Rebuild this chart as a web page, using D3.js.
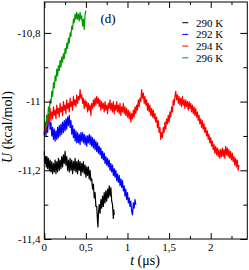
<!DOCTYPE html>
<html><head><meta charset="utf-8">
<script src="https://cdn.jsdelivr.net/npm/d3@7/dist/d3.min.js"></script>
<style>body{margin:0;background:#fff}svg{display:block}
text{font-family:"Liberation Serif","Times New Roman",Times,serif;fill:#000}</style>
</head><body>
<script>
const seriesNames = ["290 K","292 K","294 K","296 K"];
const seriesColors = ["#000000","#0000ff","#ff0000","#009a00"];
const xTicksMajor = [0,0.5,1,1.5,2];
const xTickLabels = ["0","0,5","1","1,5","2"];
const yTicksMajor = [-11.4,-11.2,-11,-10.8];
const yTickLabels = ["-11,4","-11,2","-11","-10,8"];
const xTicksMinor = [0.25,0.75,1.25,1.75,2.25];
const yTicksMinor = [-11.3,-11.1,-10.9];

const black290 = [[0,-11.145],[0.008,-11.180],[0.016,-11.160],[0.024,-11.190],[0.032,-11.160],[0.04,-11.195],[0.05,-11.165],[0.06,-11.200],[0.07,-11.170],[0.08,-11.205],[0.09,-11.175],[0.1,-11.210],[0.11,-11.180],[0.12,-11.205],[0.13,-11.170],[0.14,-11.210],[0.15,-11.175],[0.16,-11.205],[0.17,-11.165],[0.18,-11.200],[0.19,-11.170],[0.2,-11.195],[0.21,-11.160],[0.22,-11.190],[0.23,-11.155],[0.24,-11.180],[0.25,-11.145],[0.26,-11.185],[0.27,-11.160],[0.28,-11.200],[0.29,-11.170],[0.3,-11.205],[0.31,-11.165],[0.32,-11.200],[0.33,-11.170],[0.34,-11.210],[0.35,-11.175],[0.36,-11.200],[0.37,-11.165],[0.38,-11.205],[0.39,-11.175],[0.4,-11.210],[0.41,-11.170],[0.42,-11.200],[0.43,-11.175],[0.44,-11.215],[0.45,-11.180],[0.46,-11.205],[0.47,-11.175],[0.48,-11.210],[0.49,-11.185],[0.5,-11.220],[0.51,-11.190],[0.52,-11.215],[0.53,-11.190],[0.54,-11.225],[0.55,-11.200],[0.56,-11.230],[0.57,-11.225],[0.58,-11.255],[0.59,-11.240],[0.6,-11.280],[0.61,-11.265],[0.62,-11.305],[0.63,-11.305],[0.64,-11.350],[0.645,-11.365],[0.65,-11.330],[0.66,-11.300],[0.67,-11.325],[0.68,-11.285],[0.69,-11.310],[0.7,-11.275],[0.71,-11.305],[0.72,-11.265],[0.73,-11.295],[0.74,-11.260],[0.75,-11.290],[0.76,-11.255],[0.77,-11.280],[0.78,-11.245],[0.79,-11.275],[0.8,-11.250],[0.81,-11.290],[0.82,-11.300],[0.83,-11.340],[0.835,-11.315],[0.84,-11.330]];

const blue292 = [[0,-11.095],[0.01,-11.070],[0.02,-11.100],[0.03,-11.065],[0.04,-11.090],[0.05,-11.055],[0.06,-11.045],[0.07,-11.080],[0.08,-11.060],[0.09,-11.100],[0.1,-11.075],[0.11,-11.110],[0.12,-11.080],[0.13,-11.115],[0.14,-11.085],[0.15,-11.110],[0.16,-11.075],[0.17,-11.105],[0.18,-11.070],[0.19,-11.100],[0.2,-11.065],[0.21,-11.095],[0.22,-11.060],[0.23,-11.090],[0.24,-11.055],[0.25,-11.085],[0.26,-11.050],[0.27,-11.080],[0.28,-11.045],[0.29,-11.070],[0.3,-11.040],[0.31,-11.075],[0.32,-11.055],[0.33,-11.095],[0.34,-11.070],[0.35,-11.105],[0.36,-11.080],[0.37,-11.115],[0.38,-11.085],[0.39,-11.120],[0.4,-11.090],[0.41,-11.120],[0.42,-11.095],[0.43,-11.125],[0.44,-11.090],[0.45,-11.115],[0.46,-11.090],[0.47,-11.120],[0.48,-11.095],[0.49,-11.125],[0.5,-11.100],[0.51,-11.130],[0.52,-11.100],[0.53,-11.120],[0.54,-11.095],[0.55,-11.125],[0.56,-11.100],[0.57,-11.130],[0.58,-11.105],[0.59,-11.135],[0.6,-11.110],[0.61,-11.140],[0.62,-11.115],[0.63,-11.145],[0.64,-11.120],[0.65,-11.150],[0.66,-11.130],[0.67,-11.155],[0.68,-11.135],[0.69,-11.165],[0.7,-11.145],[0.71,-11.170],[0.72,-11.150],[0.73,-11.180],[0.74,-11.160],[0.75,-11.185],[0.76,-11.165],[0.77,-11.190],[0.78,-11.170],[0.79,-11.200],[0.8,-11.180],[0.81,-11.205],[0.82,-11.185],[0.83,-11.215],[0.84,-11.195],[0.85,-11.220],[0.86,-11.200],[0.87,-11.230],[0.88,-11.210],[0.89,-11.235],[0.9,-11.215],[0.91,-11.245],[0.92,-11.225],[0.93,-11.250],[0.94,-11.230],[0.95,-11.260],[0.96,-11.245],[0.97,-11.275],[0.98,-11.255],[0.99,-11.285],[1.0,-11.265],[1.01,-11.295],[1.02,-11.280],[1.03,-11.305],[1.04,-11.290],[1.05,-11.320],[1.06,-11.330],[1.07,-11.295],[1.08,-11.310],[1.09,-11.285],[1.1,-11.300]];

const red294 = [[0,-11.095],[0.01,-11.060],[0.02,-11.085],[0.03,-11.040],[0.04,-11.070],[0.05,-11.035],[0.06,-11.060],[0.07,-11.020],[0.08,-11.055],[0.09,-11.030],[0.1,-11.050],[0.11,-11.015],[0.12,-11.040],[0.13,-11.025],[0.14,-11.050],[0.15,-11.010],[0.16,-11.035],[0.17,-11.020],[0.18,-11.045],[0.19,-11.005],[0.2,-11.030],[0.21,-11.015],[0.22,-11.040],[0.23,-11.000],[0.24,-11.025],[0.25,-11.010],[0.26,-11.035],[0.27,-10.995],[0.28,-11.020],[0.29,-11.005],[0.3,-11.030],[0.31,-10.990],[0.32,-11.015],[0.33,-11.000],[0.34,-11.025],[0.35,-10.985],[0.36,-11.010],[0.37,-10.995],[0.38,-11.015],[0.39,-10.980],[0.4,-11.005],[0.41,-10.985],[0.42,-10.995],[0.43,-10.965],[0.44,-10.990],[0.45,-10.980],[0.46,-11.005],[0.47,-10.990],[0.48,-11.020],[0.49,-10.995],[0.5,-11.015],[0.51,-11.000],[0.52,-11.030],[0.53,-11.005],[0.54,-11.025],[0.55,-11.010],[0.56,-11.040],[0.57,-11.005],[0.58,-11.020],[0.59,-10.995],[0.6,-11.015],[0.61,-10.990],[0.62,-11.010],[0.63,-10.985],[0.64,-11.005],[0.65,-10.990],[0.66,-11.015],[0.67,-10.995],[0.68,-11.025],[0.69,-11.000],[0.7,-11.020],[0.71,-11.005],[0.72,-11.030],[0.73,-11.000],[0.74,-11.025],[0.75,-11.010],[0.76,-11.035],[0.77,-11.005],[0.78,-11.020],[0.79,-10.995],[0.8,-11.025],[0.81,-11.005],[0.82,-11.030],[0.83,-11.000],[0.84,-11.035],[0.85,-11.010],[0.86,-11.025],[0.87,-11.000],[0.88,-11.030],[0.89,-11.010],[0.9,-11.035],[0.91,-11.005],[0.92,-11.040],[0.93,-11.015],[0.94,-11.030],[0.95,-11.005],[0.96,-11.035],[0.97,-11.015],[0.98,-11.040],[0.99,-11.020],[1.0,-11.045],[1.01,-11.025],[1.02,-11.050],[1.03,-11.030],[1.04,-11.060],[1.05,-11.035],[1.06,-11.050],[1.07,-11.025],[1.08,-11.045],[1.09,-11.015],[1.1,-11.035],[1.11,-11.010],[1.12,-11.025],[1.13,-10.995],[1.14,-11.015],[1.15,-10.990],[1.16,-11.000],[1.17,-10.965],[1.18,-10.990],[1.19,-10.975],[1.2,-11.005],[1.21,-10.985],[1.22,-11.010],[1.23,-10.995],[1.24,-11.025],[1.25,-11.005],[1.26,-11.030],[1.27,-11.010],[1.28,-11.040],[1.29,-11.020],[1.3,-11.045],[1.31,-11.025],[1.32,-11.050],[1.33,-11.035],[1.34,-11.060],[1.35,-11.045],[1.36,-11.075],[1.37,-11.055],[1.38,-11.090],[1.39,-11.075],[1.4,-11.110],[1.41,-11.090],[1.42,-11.105],[1.43,-11.075],[1.44,-11.090],[1.45,-11.060],[1.46,-11.080],[1.47,-11.050],[1.48,-11.065],[1.49,-11.040],[1.5,-11.060],[1.51,-11.030],[1.52,-11.045],[1.53,-11.015],[1.54,-11.030],[1.55,-10.995],[1.56,-11.010],[1.57,-10.985],[1.58,-10.970],[1.59,-10.995],[1.6,-10.980],[1.61,-11.005],[1.62,-10.985],[1.63,-11.010],[1.64,-10.990],[1.65,-11.015],[1.66,-10.985],[1.67,-11.010],[1.68,-10.995],[1.69,-11.020],[1.7,-10.995],[1.71,-11.015],[1.72,-11.000],[1.73,-11.025],[1.74,-11.000],[1.75,-11.020],[1.76,-11.005],[1.77,-11.030],[1.78,-11.010],[1.79,-11.035],[1.8,-11.015],[1.81,-11.040],[1.82,-11.020],[1.83,-11.045],[1.84,-11.030],[1.85,-11.055],[1.86,-11.040],[1.87,-11.065],[1.88,-11.050],[1.89,-11.075],[1.9,-11.055],[1.91,-11.080],[1.92,-11.065],[1.93,-11.090],[1.94,-11.075],[1.95,-11.100],[1.96,-11.085],[1.97,-11.110],[1.98,-11.095],[1.99,-11.120],[2.0,-11.105],[2.01,-11.130],[2.02,-11.115],[2.03,-11.140],[2.04,-11.125],[2.05,-11.150],[2.06,-11.130],[2.07,-11.155],[2.08,-11.135],[2.09,-11.160],[2.1,-11.140],[2.11,-11.165],[2.12,-11.140],[2.13,-11.160],[2.14,-11.135],[2.15,-11.160],[2.16,-11.140],[2.17,-11.165],[2.18,-11.130],[2.19,-11.155],[2.2,-11.135],[2.21,-11.160],[2.22,-11.140],[2.23,-11.165],[2.24,-11.145],[2.25,-11.170],[2.26,-11.150],[2.27,-11.175],[2.28,-11.160],[2.29,-11.185],[2.3,-11.165],[2.31,-11.190],[2.32,-11.170],[2.33,-11.200],[2.34,-11.185]];

const green296 = [[0,-11.100],[0.01,-11.070],[0.02,-11.075],[0.03,-11.040],[0.04,-11.055],[0.05,-11.015],[0.06,-11.030],[0.07,-10.995],[0.08,-11.005],[0.09,-10.970],[0.1,-10.985],[0.11,-10.945],[0.12,-10.960],[0.13,-10.925],[0.14,-10.940],[0.15,-10.905],[0.16,-10.925],[0.17,-10.895],[0.18,-10.910],[0.19,-10.880],[0.2,-10.900],[0.21,-10.870],[0.22,-10.885],[0.23,-10.860],[0.24,-10.875],[0.25,-10.845],[0.26,-10.860],[0.27,-10.830],[0.28,-10.845],[0.29,-10.815],[0.3,-10.830],[0.31,-10.800],[0.32,-10.810],[0.33,-10.780],[0.34,-10.790],[0.35,-10.760],[0.36,-10.770],[0.37,-10.745],[0.38,-10.760],[0.39,-10.740],[0.4,-10.760],[0.41,-10.745],[0.42,-10.765],[0.43,-10.740],[0.44,-10.760],[0.45,-10.750],[0.46,-10.780],[0.47,-10.760],[0.48,-10.790],[0.49,-10.745],[0.5,-10.735]];

const seriesData = [black290, blue292, red294, green296];

const W = 249, H = 270;
const L = 44.3, R = 247.3, T = 2, B = 239;
const svg = d3.select("body").append("svg").attr("width", W).attr("height", H);
const x = d3.scaleLinear().domain([0, 2.44]).range([L, R]);
const y = d3.scaleLinear().domain([-11.4, -10.71]).range([B, T]);

const line = d3.line().x(d => x(d[0])).y(d => y(d[1]));
seriesData.forEach((s, i) => {
  svg.append("path").attr("d", line(s)).attr("fill", "none")
    .attr("stroke", seriesColors[i]).attr("stroke-width", 1.2).attr("stroke-linejoin", "round");
});

svg.append("rect").attr("x", L).attr("y", T).attr("width", R - L).attr("height", B - T)
  .attr("fill", "none").attr("stroke", "#000").attr("stroke-width", 1);

const tk = (sel) => sel.select(".domain").remove();
const addAxis = (gen, tr) => svg.append("g").attr("transform", tr).call(gen).call(tk);
addAxis(d3.axisBottom(x).tickValues(xTicksMajor).tickSizeInner(-6).tickSizeOuter(0).tickFormat(""), `translate(0,${B})`);
addAxis(d3.axisBottom(x).tickValues(xTicksMinor).tickSizeInner(-3).tickSizeOuter(0).tickFormat(""), `translate(0,${B})`);
addAxis(d3.axisTop(x).tickValues(xTicksMajor).tickSizeInner(-6).tickSizeOuter(0).tickFormat(""), `translate(0,${T})`);
addAxis(d3.axisTop(x).tickValues(xTicksMinor).tickSizeInner(-3).tickSizeOuter(0).tickFormat(""), `translate(0,${T})`);
addAxis(d3.axisLeft(y).tickValues(yTicksMajor).tickSizeInner(-7).tickSizeOuter(0).tickFormat(""), `translate(${L},0)`);
addAxis(d3.axisLeft(y).tickValues(yTicksMinor).tickSizeInner(-4).tickSizeOuter(0).tickFormat(""), `translate(${L},0)`);
addAxis(d3.axisRight(y).tickValues(yTicksMajor).tickSizeInner(-7).tickSizeOuter(0).tickFormat(""), `translate(${R},0)`);
addAxis(d3.axisRight(y).tickValues(yTicksMinor).tickSizeInner(-4).tickSizeOuter(0).tickFormat(""), `translate(${R},0)`);
svg.selectAll(".tick line").attr("stroke", "#000").attr("stroke-width", 1);

xTicksMajor.forEach((v, i) => {
  svg.append("text").attr("x", x(v)).attr("y", 250.5).attr("text-anchor", "middle")
    .attr("font-size", 11).text(xTickLabels[i]);
});
yTicksMajor.forEach((v, i) => {
  svg.append("text").attr("x", 40.5).attr("y", y(v) + 3.8).attr("text-anchor", "end")
    .attr("font-size", 11).text(yTickLabels[i]);
});

const xt = svg.append("text").attr("x", 145).attr("y", 265).attr("text-anchor", "middle").attr("font-size", 14);
xt.append("tspan").attr("font-style", "italic").text("t");
xt.append("tspan").text(" (μs)");
const yt = svg.append("text").attr("transform", "translate(12,127) rotate(-90)").attr("text-anchor", "middle").attr("font-size", 14);
yt.append("tspan").attr("font-style", "italic").text("U");
yt.append("tspan").text(" (kcal/mol)");

svg.append("text").attr("x", 108).attr("y", 22.5).attr("text-anchor", "middle").attr("font-size", 13).text("(d)");

seriesNames.forEach((n, i) => {
  const cy = 22.7 + i * 11.7;
  svg.append("line").attr("x1", 182.3).attr("x2", 188.3).attr("y1", cy).attr("y2", cy)
    .attr("stroke", seriesColors[i]).attr("stroke-width", 1);
  svg.append("text").attr("x", 196).attr("y", cy + 3.8).attr("font-size", 11).text(n);
});
</script>
</body></html>
